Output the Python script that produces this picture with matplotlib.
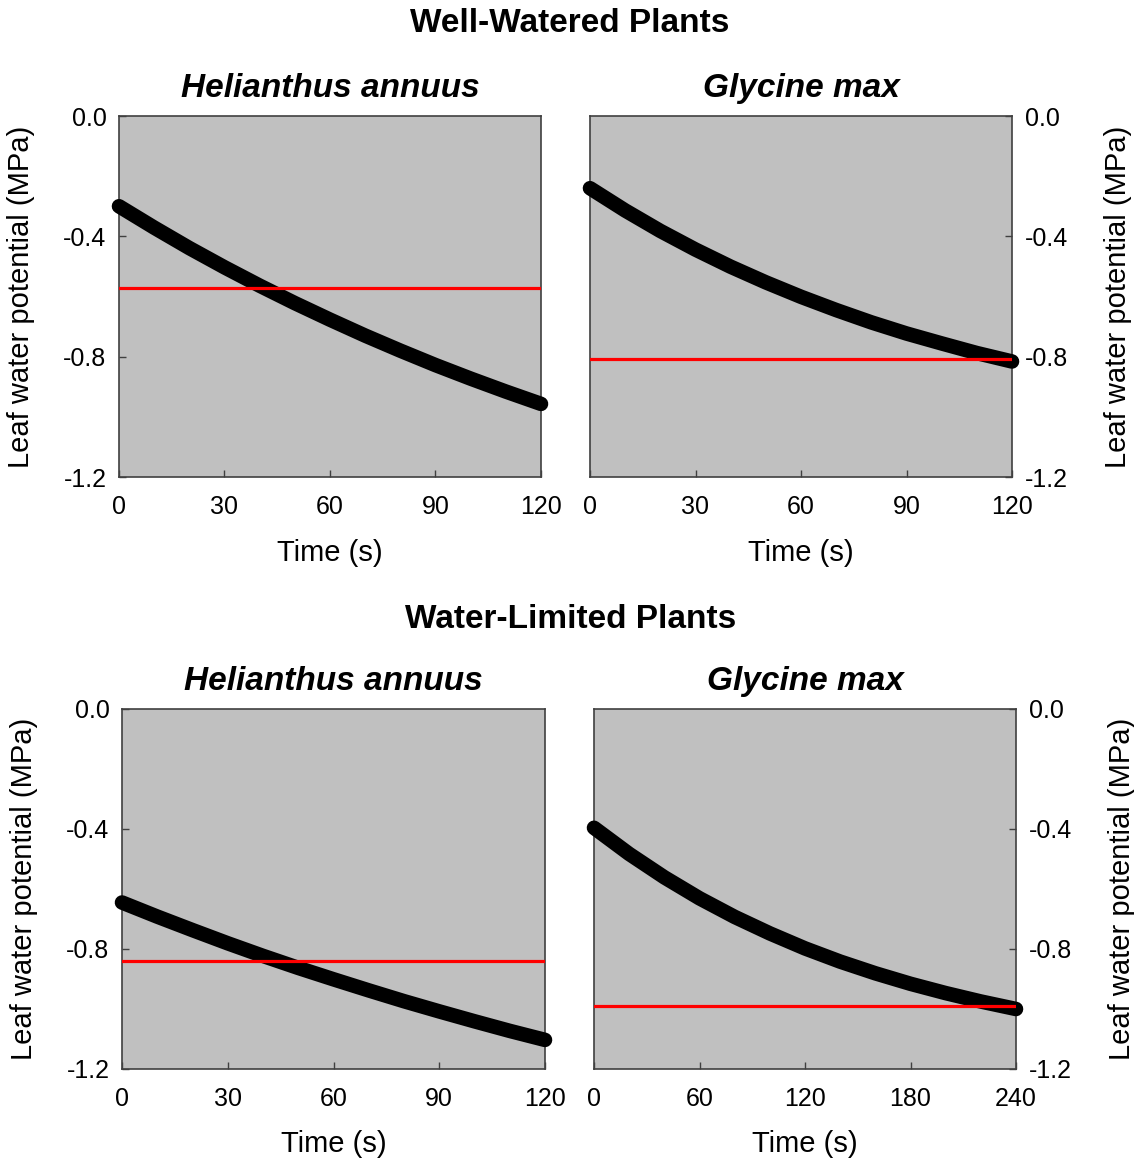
import matplotlib
matplotlib.use("Agg")
import matplotlib.pyplot as plt

plt.rcParams['font.family'] = ['Liberation Sans', 'DejaVu Sans']

# time axes (s)
time_120 = [0, 10, 20, 30, 40, 50, 60, 70, 80, 90, 100, 110, 120]
time_240 = [0, 20, 40, 60, 80, 100, 120, 140, 160, 180, 200, 220, 240]

# leaf water potential (MPa)
ww_helianthus = [-0.300, -0.371, -0.439, -0.503, -0.564, -0.622, -0.677,
                 -0.730, -0.780, -0.828, -0.873, -0.916, -0.957]
ww_glycine = [-0.240, -0.314, -0.382, -0.444, -0.501, -0.553, -0.601,
              -0.645, -0.686, -0.723, -0.756, -0.788, -0.816]
wl_helianthus = [-0.645, -0.692, -0.737, -0.781, -0.823, -0.863, -0.901,
                 -0.938, -0.974, -1.008, -1.041, -1.073, -1.103]
wl_glycine = [-0.396, -0.483, -0.561, -0.631, -0.693, -0.748, -0.798,
              -0.842, -0.881, -0.916, -0.947, -0.975, -1.000]

# red threshold lines
ww_helianthus_thr = -0.572
ww_glycine_thr = -0.808
wl_helianthus_thr = -0.840
wl_glycine_thr = -0.990

ticks_120 = [0, 30, 60, 90, 120]
ticks_240 = [0, 60, 120, 180, 240]
y_ticks = [0.0, -0.4, -0.8, -1.2]

W, H = 1134, 1161
fig = plt.figure(figsize=(W / 100, H / 100), dpi=100)


def make_axes(x0, y0, x1, y1):
    return fig.add_axes([x0 / W, 1 - y1 / H, (x1 - x0) / W, (y1 - y0) / H])


def panel(ax, t, psi, thr, xticks, title, right=False):
    ax.set_facecolor('#c0c0c0')
    ax.plot(t, psi, color='black', lw=10.5, solid_capstyle='round',
            solid_joinstyle='round', clip_on=False, zorder=3)
    ax.plot([xticks[0], xticks[-1]], [thr, thr], color='#ff0000', lw=2.3, zorder=4)
    ax.set_xlim(xticks[0], xticks[-1])
    ax.set_ylim(-1.2, 0.0)
    ax.set_xticks(xticks)
    ax.set_yticks(y_ticks)
    ax.set_yticklabels(['%.1f' % v for v in y_ticks])
    ax.tick_params(direction='in', length=5, width=1, color='#404040', labelsize=18)
    ax.tick_params(axis='x', pad=13)
    ax.tick_params(axis='y', pad=9)
    for s in ax.spines.values():
        s.set_color('#404040')
        s.set_linewidth(1.2)
    ax.set_xlabel('Time (s)', fontsize=21, labelpad=14)
    if right:
        ax.yaxis.tick_right()
        ax.yaxis.set_label_position('right')
        ax.tick_params(axis='y', direction='in', length=5, width=1, color='#404040',
                       labelsize=18, pad=9)
        ax.set_ylabel('Leaf water potential (MPa)', fontsize=21, labelpad=26)
    else:
        ax.set_ylabel('Leaf water potential (MPa)', fontsize=21, labelpad=20)
    ax.set_title(title, fontsize=24, fontweight='bold', fontstyle='italic', pad=14)


ax1 = make_axes(119, 116, 541, 477)
ax2 = make_axes(590, 116, 1012, 477)
ax3 = make_axes(122, 709, 545, 1069)
ax4 = make_axes(594, 709, 1016, 1069)

panel(ax1, time_120, ww_helianthus, ww_helianthus_thr, ticks_120, 'Helianthus annuus')
panel(ax2, time_120, ww_glycine, ww_glycine_thr, ticks_120, 'Glycine max', right=True)
panel(ax3, time_120, wl_helianthus, wl_helianthus_thr, ticks_120, 'Helianthus annuus')
panel(ax4, time_240, wl_glycine, wl_glycine_thr, ticks_240, 'Glycine max', right=True)

fig.text(569.5 / W, 1 - 23 / H, 'Well-Watered Plants', fontsize=24,
         fontweight='bold', ha='center', va='center')
fig.text(571 / W, 1 - 619 / H, 'Water-Limited Plants', fontsize=24,
         fontweight='bold', ha='center', va='center')

fig.savefig('out.png', dpi=100)
